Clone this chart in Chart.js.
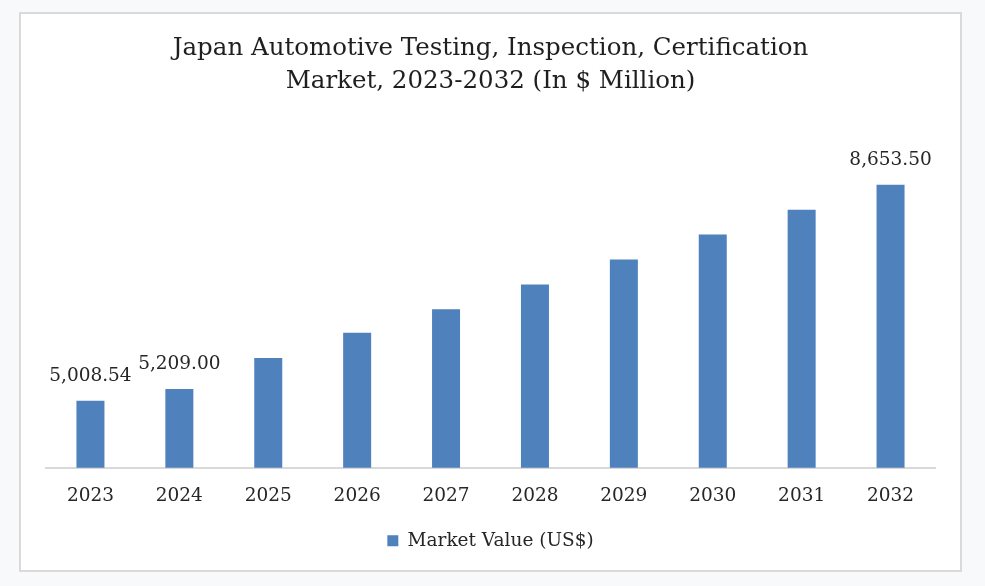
<!DOCTYPE html>
<html>
<head>
<meta charset="utf-8">
<title>Japan Automotive TIC Market</title>
<script src="https://cdn.jsdelivr.net/npm/chart.js@4.4.0/dist/chart.umd.min.js"></script>
<style>
	html, body {
		margin: 0;
		padding: 0;
		background: #f8f9fb;
	}
	.panel {
		position: absolute;
		left: 19px;
		top: 12px;
		width: 943px;
		height: 560px;
		box-sizing: border-box;
		border: 2px solid #dadada;
		background: #ffffff;
	}
	.panel canvas {
		display: block;
	}
</style>
</head>
<body>
<div class="panel">
	<canvas id="marketChart"></canvas>
</div>
<script>
// values; 2023, 2024 and 2032 are printed on the chart
const years = ['2023', '2024', '2025', '2026', '2027', '2028', '2029', '2030', '2031', '2032'];
const marketValues = [5008.54, 5209.0, 5732, 6156, 6555, 6973, 7392, 7815, 8232, 8653.5];
const labelledYears = ['2023', '2024', '2032'];
const seriesName = 'Market Value (US$)';
const titleLines = [
	'Japan Automotive Testing, Inspection, Certification',
	'Market, 2023-2032 (In $ Million)',
];

const barColor = '#4f81bd';
const textColor = '#262626';
const serif = "'DejaVu Serif', 'Liberation Serif', serif";

// draws the value above the bars that carry a label in the reference
const valueLabels = {
	id: 'valueLabels',
	afterDatasetsDraw(chart) {
		const ctx = chart.ctx;
		const meta = chart.getDatasetMeta(0);
		ctx.save();
		ctx.font = `18.5px ${serif}`;
		ctx.fillStyle = textColor;
		ctx.textAlign = 'center';
		ctx.textBaseline = 'middle';
		meta.data.forEach((bar, i) => {
			if (!labelledYears.includes(years[i])) return;
			const text = marketValues[i].toLocaleString('en-US', {
				minimumFractionDigits: 2,
				maximumFractionDigits: 2,
			});
			ctx.fillText(text, bar.x, bar.y - 25);
		});
		ctx.restore();
	},
};

const ctx = document.getElementById('marketChart').getContext('2d');
new Chart(ctx, {
	type: 'bar',
	data: {
		labels: years,
		datasets: [
			{
				label: seriesName,
				data: marketValues,
				backgroundColor: barColor,
				borderWidth: 0,
				barPercentage: 0.315,
				categoryPercentage: 1,
			},
		],
	},
	options: {
		responsive: true,
		maintainAspectRatio: false,
		animation: false,
		layout: {
			padding: { left: 25, right: 25, top: 0, bottom: 10 },
		},
		scales: {
			x: {
				grid: { display: false, drawTicks: false },
				border: { display: true, color: '#d9d9d9', width: 2 },
				ticks: {
					padding: 17.3,
					color: textColor,
					font: { family: serif, size: 18.5 },
				},
			},
			y: {
				display: false,
				min: 3880,
				max: 9000,
			},
		},
		plugins: {
			title: {
				display: true,
				text: titleLines,
				color: '#1f1f1f',
				font: { family: serif, size: 24.5, weight: 'normal', lineHeight: 1.347 },
				padding: { top: 18.5, bottom: 65.8 },
			},
			legend: {
				display: true,
				position: 'bottom',
				labels: {
					boxWidth: 11,
					boxHeight: 11,
					padding: 7,
					color: textColor,
					font: { family: serif, size: 18.5 },
				},
			},
			tooltip: { enabled: false },
		},
	},
	plugins: [valueLabels],
});
</script>
</body>
</html>
